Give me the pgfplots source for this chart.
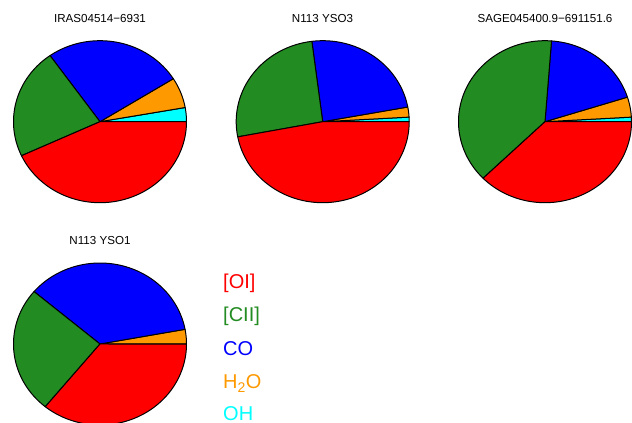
\documentclass[border=0pt]{standalone}
\usepackage{pgfplots}
\pgfplotsset{compat=1.18}
\usepackage{fontspec}
\setmainfont{Liberation Sans}
\definecolor{oiRed}{RGB}{255,0,0}
\definecolor{ciiGreen}{RGB}{34,139,34}
\definecolor{coBlue}{RGB}{0,0,255}
\definecolor{hoOrange}{RGB}{255,153,0}
\definecolor{ohCyan}{RGB}{0,255,255}

% one wedge: start and end as percent of the whole
\newcommand\slice[3]{%
  \pgfmathsetmacro\sa{3.6*(#1)}\pgfmathsetmacro\sb{3.6*(#2)}%
  \ifdim\sb pt>\sa pt
    \edef\doslice{\noexpand\addplot[fill=#3, draw=black, line width=1pt, line join=round,
      domain=\sa:\sb, samples=90, variable=\noexpand\t]
      ({cos(\noexpand\t)},{sin(\noexpand\t)}) -- (axis cs:0,0) -- cycle;}%
    \doslice
  \fi}
% pie: percentages of OH, H2O, CO, [CII], [OI]
\newcommand\pie[5]{%
  \pgfmathsetmacro\cA{#1}%
  \pgfmathsetmacro\cB{#1+#2}%
  \pgfmathsetmacro\cC{#1+#2+#3}%
  \pgfmathsetmacro\cD{#1+#2+#3+#4}%
  \pgfmathsetmacro\cE{#1+#2+#3+#4+#5}%
  \slice{0}{\cA}{ohCyan}%
  \slice{\cA}{\cB}{hoOrange}%
  \slice{\cB}{\cC}{coBlue}%
  \slice{\cC}{\cD}{ciiGreen}%
  \slice{\cD}{\cE}{oiRed}}

\pgfplotsset{pieaxis/.style={hide axis, scale only axis, width=173pt, height=162pt,
  xmin=-1, xmax=1, ymin=-1, ymax=1, clip=false, anchor=center}}

\begin{document}
\begin{tikzpicture}
\useasboundingbox (0,0) rectangle (632pt,423pt);
\begin{axis}[pieaxis, at={(100pt,301.3pt)}]
  \pie{2.8}{6.1}{25.9}{22.1}{43.1}
\end{axis}
\begin{axis}[pieaxis, at={(322.7pt,301.3pt)}]
  \pie{0.9}{2.0}{24.1}{26.0}{47.0}
\end{axis}
\begin{axis}[pieaxis, at={(545pt,301.3pt)}]
  \pie{0.9}{4.0}{18.9}{38.5}{37.7}
\end{axis}
\begin{axis}[pieaxis, at={(100pt,79pt)}]
  \pie{0}{2.9}{35.9}{25.3}{35.9}
\end{axis}
\begin{scope}[every node/.style={inner sep=0pt, font=\fontsize{11.6}{13}\selectfont}]
\node[anchor=base] at (100pt,400.3pt) {IRAS04514−6931};
\node[anchor=base] at (322.5pt,400.3pt) {N113 YSO3};
\node[anchor=base] at (545pt,400.3pt) {SAGE045400.9−691151.6};
\node[anchor=base] at (100pt,178pt) {N113 YSO1};
\end{scope}
\begin{scope}[every node/.style={inner sep=0pt, anchor=base west, font=\fontsize{20}{24}\selectfont}]
\node[text=oiRed] at (223pt,134pt) {[OI]};
\node[text=ciiGreen] at (223pt,101pt) {[CII]};
\node[text=coBlue] at (223pt,67.5pt) {CO};
\node[text=hoOrange] at (223pt,34pt) {H\textsubscript{2}O};
\node[text=ohCyan] at (223pt,2.5pt) {OH};
\end{scope}
\end{tikzpicture}
\end{document}
